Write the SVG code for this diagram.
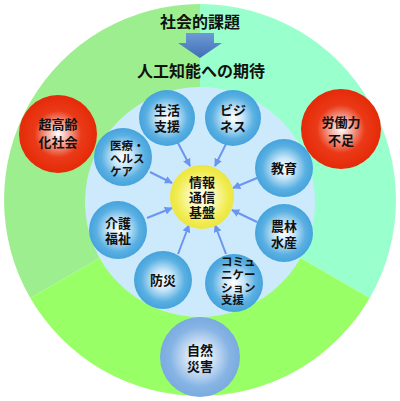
<svg xmlns="http://www.w3.org/2000/svg" width="400" height="401" viewBox="0 0 400 401">
<style>
text{font-family:"Liberation Sans","Noto Sans CJK JP",sans-serif;font-weight:bold;fill:#111;text-anchor:middle;dominant-baseline:central}
.t{font-size:16px}
.n{font-size:13px}
.s{font-size:11.5px;text-anchor:start}
.c{stroke:#6b95ee;stroke-width:2;fill:none;marker-end:url(#ah)}
</style>
<defs>
<radialGradient id="gb" cx="50%" cy="50%" r="50%">
<stop offset="0" stop-color="#ffffff"/><stop offset="0.35" stop-color="#c8e6f8"/><stop offset="0.75" stop-color="#5ab0e2"/><stop offset="1" stop-color="#45a3dc"/>
</radialGradient>
<radialGradient id="gr" cx="50%" cy="50%" r="50%">
<stop offset="0" stop-color="#ffffff"/><stop offset="0.3" stop-color="#f4a090"/><stop offset="0.6" stop-color="#ea3a18"/><stop offset="1" stop-color="#e52a08"/>
</radialGradient>
<radialGradient id="gy" cx="50%" cy="50%" r="50%">
<stop offset="0" stop-color="#ffffff"/><stop offset="0.4" stop-color="#fbf8b0"/><stop offset="0.8" stop-color="#f0ec50"/><stop offset="1" stop-color="#ece640"/>
</radialGradient>
<radialGradient id="gs" cx="50%" cy="50%" r="50%">
<stop offset="0" stop-color="#ffffff"/><stop offset="0.35" stop-color="#cfe1f5"/><stop offset="0.75" stop-color="#86b4e4"/><stop offset="1" stop-color="#7aabe0"/>
</radialGradient>
<linearGradient id="ga" x1="0" y1="0" x2="0" y2="1">
<stop offset="0" stop-color="#6f9ad6"/><stop offset="1" stop-color="#3f6fb5"/>
</linearGradient>
<marker id="ah" viewBox="0 0 10 10" refX="9" refY="5" markerWidth="4" markerHeight="4" orient="auto" markerUnits="strokeWidth">
<path d="M0,0 L10,5 L0,10 z" fill="#6b95ee"/>
</marker>
</defs>
<g id="background">
<path d="M200,200 L200,4 A196,196 0 0 0 30.3,298 Z" fill="#9cee8e"/>
<path d="M200,200 L200,4 A196,196 0 0 1 369.7,298 Z" fill="#99ffcc"/>
<path d="M200,200 L30.3,298 A196,196 0 0 0 369.7,298 Z" fill="#99ff66"/>
<circle cx="200" cy="202" r="115" fill="#cdeafc"/>
</g>
<g id="title">
<text class="t" x="200" y="22">社会的課題</text>
<path d="M186,33 L214,33 L214,43 L222,43 L200,58 L178,43 L186,43 Z" fill="url(#ga)"/>
<text class="t" x="201" y="71">人工知能への期待</text>
</g>
<g id="connectors">
<line class="c" x1="178" y1="143" x2="190" y2="166"/>
<line class="c" x1="226" y1="144" x2="215" y2="166"/>
<line class="c" x1="150" y1="172" x2="172" y2="183"/>
<line class="c" x1="147" y1="218" x2="172" y2="208"/>
<line class="c" x1="178" y1="254" x2="189" y2="225"/>
<line class="c" x1="226" y1="254" x2="215" y2="225"/>
<line class="c" x1="257" y1="222" x2="232" y2="210"/>
<line class="c" x1="257" y1="178" x2="233" y2="188"/>
</g>
<g id="n-kiban"><circle cx="202" cy="197" r="32" fill="url(#gy)"/>
<text class="n" x="202" y="182">情報</text><text class="n" x="202" y="197">通信</text><text class="n" x="202" y="212">基盤</text></g>
<g id="n-seikatsu"><circle cx="167" cy="118" r="28" fill="url(#gb)"/>
<text class="n" x="167" y="110">生活</text><text class="n" x="167" y="126">支援</text></g>
<g id="n-business"><circle cx="233" cy="118" r="28" fill="url(#gb)"/>
<text class="n" x="233" y="110">ビジ</text><text class="n" x="233" y="126">ネス</text></g>
<g id="n-iryou"><circle cx="123" cy="157" r="29" fill="url(#gb)"/>
<text class="s" x="110" y="146">医療・</text><text class="s" x="110" y="159">ヘルス</text><text class="s" x="110" y="172">ケア</text></g>
<g id="n-kaigo"><circle cx="118" cy="230" r="29" fill="url(#gb)"/>
<text class="n" x="118" y="223">介護</text><text class="n" x="118" y="238">福祉</text></g>
<g id="n-bousai"><circle cx="163" cy="280" r="29" fill="url(#gb)"/>
<text class="n" x="163" y="280">防災</text></g>
<g id="n-comm"><circle cx="234" cy="283" r="29" fill="url(#gb)"/>
<text class="s" x="221" y="262">コミュ</text><text class="s" x="221" y="275">ニケー</text><text class="s" x="221" y="288">ション</text><text class="s" x="221" y="300">支援</text></g>
<g id="n-kyouiku"><circle cx="284" cy="168" r="29" fill="url(#gb)"/>
<text class="n" x="284" y="168">教育</text></g>
<g id="n-nourin"><circle cx="284" cy="233" r="29" fill="url(#gb)"/>
<text class="n" x="284" y="226">農林</text><text class="n" x="284" y="242">水産</text></g>
<g id="n-koureika"><circle cx="58" cy="134" r="39" fill="url(#gr)"/>
<text class="n" x="58" y="124">超高齢</text><text class="n" x="58" y="142">化社会</text></g>
<g id="n-roudou"><circle cx="341" cy="129" r="40" fill="url(#gr)"/>
<text class="n" x="341" y="122">労働力</text><text class="n" x="341" y="140">不足</text></g>
<g id="n-shizen"><circle cx="200" cy="357" r="40" fill="url(#gs)"/>
<text class="n" x="200" y="350">自然</text><text class="n" x="200" y="366">災害</text></g>
</svg>
